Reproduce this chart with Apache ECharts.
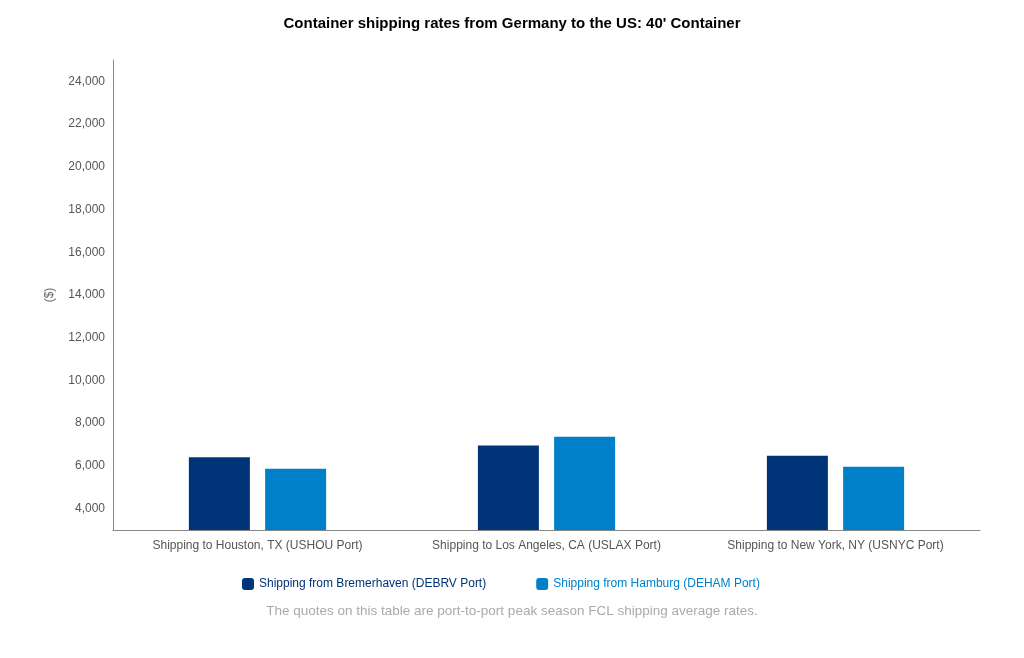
<!DOCTYPE html><html><head><meta charset="utf-8">
<script src="https://cdn.jsdelivr.net/npm/echarts@6/dist/echarts.min.js"></script>
<style>html,body{margin:0;background:#fff}#c{width:1024px;height:658px}</style></head><body><div id="c"></div>
<script>
const categories=["Shipping to Houston, TX (USHOU Port)","Shipping to Los Angeles, CA (USLAX Port)","Shipping to New York, NY (USNYC Port)"];
const bremerhaven=[6400,6950,6480];
const hamburg=[5870,7360,5960];
const seriesNames=["Shipping from Bremerhaven (DEBRV Port)","Shipping from Hamburg (DEHAM Port)"];
const chart=echarts.init(document.getElementById('c'));
chart.setOption({
 animation:false,
 textStyle:{fontFamily:'Liberation Sans, Arial, sans-serif'},
 title:{text:'Container shipping rates from Germany to the US: 40\' Container',left:'center',top:11,textStyle:{fontSize:15,fontWeight:'bold',color:'#000'}},
 graphic:[{type:'text',left:'center',top:604,style:{text:'The quotes on this table are port-to-port peak season FCL shipping average rates.',fill:'#aaa',fontSize:13.5,fontFamily:'Liberation Sans, Arial'}}],
 legend:{top:573,left:237,itemWidth:12,itemHeight:12,itemGap:50,icon:'roundRect',
  data:[{name:seriesNames[0],textStyle:{color:'#003478'}},{name:seriesNames[1],textStyle:{color:'#0080c8'}}],textStyle:{fontSize:12}},
 grid:{left:113,right:44,top:60,bottom:128},
 xAxis:{type:'category',data:categories,axisLine:{lineStyle:{color:'#888'}},axisTick:{show:false},axisLabel:{color:'#555',fontSize:12,margin:10,interval:0}},
 yAxis:{type:'value',min:3000,max:25000,interval:1000,name:'($)',nameLocation:'middle',nameGap:57,nameRotate:90,nameTextStyle:{color:'#666',fontSize:12},
  axisLine:{show:true,lineStyle:{color:'#888'}},axisTick:{show:false},splitLine:{show:false},
  axisLabel:{color:'#555',fontSize:12,formatter:v=>(v%2000===0&&v>=4000&&v<=24000)?v.toLocaleString('en-US'):''}},
 series:[
  {name:seriesNames[0],type:'bar',data:bremerhaven,itemStyle:{color:'#003478'},barWidth:61,barGap:'25%'},
  {name:seriesNames[1],type:'bar',data:hamburg,itemStyle:{color:'#0080c8'},barWidth:61}
 ]
});
</script></body></html>
